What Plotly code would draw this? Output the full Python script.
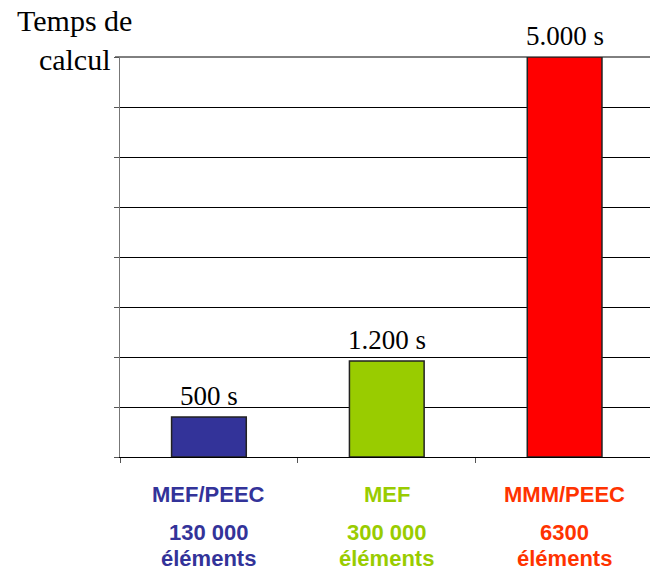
import plotly.graph_objects as go

# Chart data
categories = ["MEF/PEEC", "MEF", "MMM/PEEC"]
element_counts = ["130 000", "300 000", "6300"]
compute_time_s = [500, 1200, 5000]
time_labels = ["500 s", "1.200 s", "5.000 s"]
bar_colors = ["#333399", "#99CC00", "#FF0000"]
label_colors = ["#333399", "#99CC00", "#FF3300"]

W, H = 650, 576
L, R, T, B = 120, 0, 57, 119
plot_w = W - L - R
plot_h = H - T - B
y_max = 5000


def px_x(px):
    return (px - L) / plot_w


def px_y(py):
    return (H - B - py) / plot_h


fig = go.Figure()
fig.add_trace(go.Bar(
    x=categories,
    y=compute_time_s,
    width=0.42,
    marker=dict(color=bar_colors, line=dict(color="#222222", width=1.5)),
    cliponaxis=False,
    hoverinfo="skip",
))

annotations = [
    dict(text="Temps de<br>calcul", x=px_x(74), y=px_y(40), xref="paper", yref="paper",
         xanchor="center", yanchor="middle", align="center", showarrow=False,
         font=dict(family="Liberation Serif", size=30, color="black")),
]
# value labels above each bar
for cat, val, lab in zip(categories, compute_time_s, time_labels):
    annotations.append(dict(text=lab, x=cat, y=val, xref="x", yref="y",
                            xanchor="center", yanchor="bottom", yshift=4, showarrow=False,
                            font=dict(family="Liberation Serif", size=27, color="black")))
# category captions under the axis
for i, (cat, cnt, col) in enumerate(zip(categories, element_counts, label_colors)):
    for text, py in ((cat, 494), (cnt, 532), ("éléments", 558)):
        annotations.append(dict(text=f"<b>{text}</b>", x=i, y=px_y(py), xref="x", yref="paper",
                                xanchor="center", yanchor="middle", showarrow=False,
                                font=dict(family="Liberation Sans", size=22, color=col)))

fig.update_layout(
    width=W, height=H,
    margin=dict(l=L, r=R, t=T, b=B, pad=0),
    paper_bgcolor="white", plot_bgcolor="white",
    showlegend=False,
    annotations=annotations,
    # top border line of the grid (not clipped at the plot edge)
    shapes=[dict(type="line", xref="paper", yref="paper", x0=px_x(115), x1=1, y0=1, y1=1,
                 line=dict(color="black", width=1), layer="below")],
    xaxis=dict(
        range=[-0.5, 2.48], showline=True, linecolor="black", linewidth=1,
        ticks="outside", tickson="boundaries", ticklen=5, tickcolor="#555555",
        showticklabels=False, showgrid=False, zeroline=False, fixedrange=True,
    ),
    yaxis=dict(
        range=[0, y_max], dtick=625, showline=True, linecolor="#777777", linewidth=1,
        ticks="outside", ticklen=5, tickcolor="#555555", showticklabels=False,
        showgrid=True, gridcolor="black", gridwidth=1, zeroline=False, fixedrange=True,
    ),
)

fig.write_html("out.html")
